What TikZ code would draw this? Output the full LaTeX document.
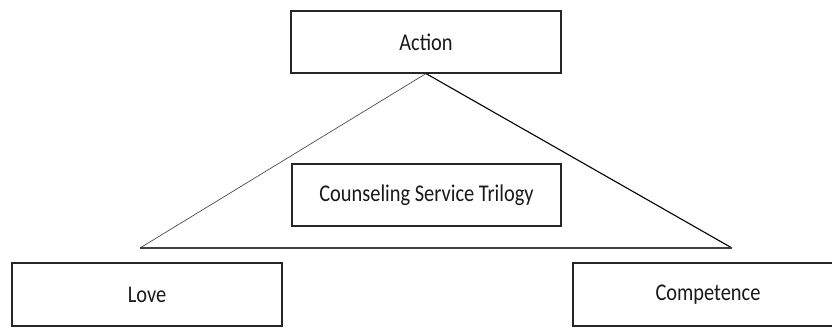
\documentclass[tikz,border=0pt]{standalone}
\usepackage{fontspec}
\setmainfont{Carlito}[FakeStretch=0.85]
\usepackage{tikz}
\usetikzlibrary{positioning}

\begin{document}
\begin{tikzpicture}[
  x=1bp,y=-1bp,
  box/.style={draw=black!85,line width=1.1bp,minimum width=270bp,minimum height=62bp,inner sep=0pt,
    font=\fontsize{24bp}{28bp}\selectfont,text=black!90},
  thinside/.style={draw=black!70,line width=0.7bp},
  thickside/.style={draw=black,line width=1.1bp}
]
  \useasboundingbox (0,0) rectangle (832,327);
  \node[box] (action) at (426,42) {Action};
  \node[box,minimum width=269bp] (trilogy) at (426.5,195) {Counseling Service Trilogy};
  \node[box,minimum height=63bp] (love) at (147,294.5) {Love};
  \node[box,minimum height=63bp] (competence) at (708,294.5) {Competence};
  \coordinate (baseL) at (140,248);
  \coordinate (baseR) at (732,248);
  % triangle
  \draw[thinside] (action.south) -- (baseL);
  \draw[thickside] (action.south) -- (baseR);
  \draw[thickside,draw=black!75] (baseL) -- (baseR);
\end{tikzpicture}
\end{document}
